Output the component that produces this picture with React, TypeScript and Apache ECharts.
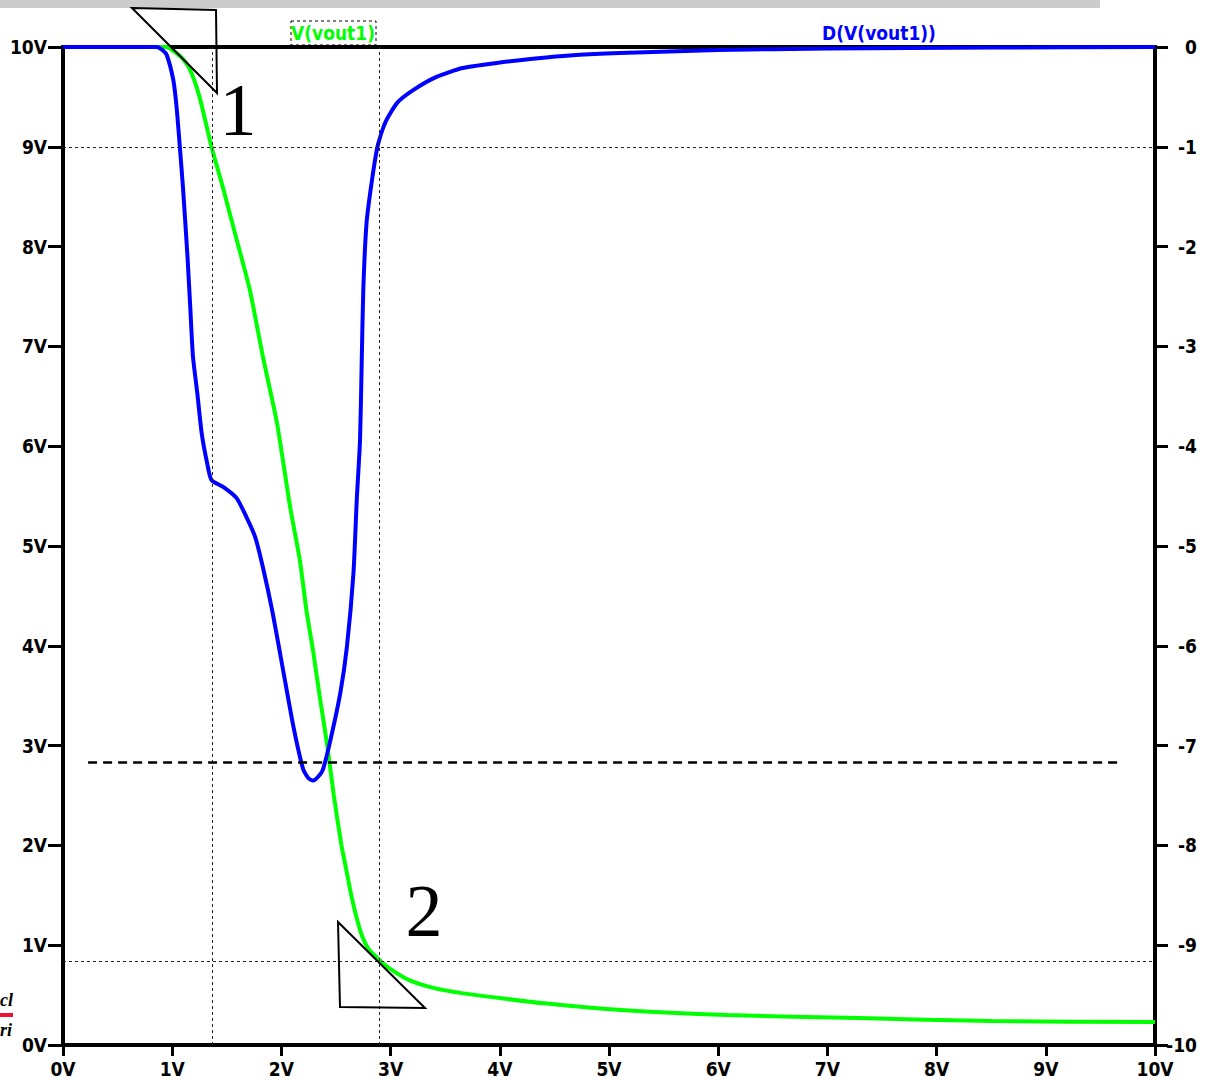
import React, { useEffect, useRef } from "react";
import * as echarts from "echarts";

const xTicks = [0, 1, 2, 3, 4, 5, 6, 7, 8, 9, 10];

// V(vout1) vs sweep voltage (left axis, V)
const vinGreen = [0, 0.5, 0.95, 1.0, 1.08, 1.16, 1.25, 1.36, 1.47, 1.59, 1.71, 1.83, 1.96, 2.08, 2.17, 2.23, 2.29, 2.35, 2.42, 2.48, 2.55, 2.59, 2.64, 2.69, 2.74, 2.8, 2.9, 3.0, 3.17, 3.4, 3.65, 4.0, 4.38, 5.11, 6.08, 7.29, 8.5, 10];
const voutGreen = [10, 10, 10, 9.97, 9.9, 9.78, 9.5, 9.0, 8.57, 8.07, 7.57, 6.9, 6.23, 5.39, 4.85, 4.35, 3.95, 3.5, 3.0, 2.5, 2.0, 1.78, 1.5, 1.27, 1.09, 0.96, 0.85, 0.76, 0.65, 0.57, 0.52, 0.47, 0.42, 0.35, 0.3, 0.27, 0.24, 0.23];

// D(V(vout1)) (right axis)
const vinBlue = [0, 0.5, 0.86, 0.91, 0.95, 1.01, 1.04, 1.07, 1.1, 1.14, 1.165, 1.19, 1.23, 1.27, 1.32, 1.36, 1.47, 1.59, 1.68, 1.76, 1.83, 1.92, 2.01, 2.11, 2.2, 2.25, 2.29, 2.33, 2.38, 2.45, 2.54, 2.6, 2.66, 2.69, 2.72, 2.735, 2.75, 2.78, 2.83, 2.88, 2.95, 3.06, 3.21, 3.42, 3.66, 3.97, 4.28, 4.7, 5.1, 6.0, 7.0, 8.5, 10];
const dBlue = [0, 0, 0, -0.03, -0.08, -0.33, -0.6, -1.0, -1.43, -2.1, -2.6, -3.1, -3.47, -3.87, -4.17, -4.34, -4.41, -4.52, -4.71, -4.91, -5.21, -5.67, -6.21, -6.81, -7.24, -7.33, -7.35, -7.32, -7.24, -6.94, -6.47, -6.01, -5.27, -4.54, -3.94, -3.18, -2.43, -1.76, -1.33, -1.0, -0.76, -0.56, -0.43, -0.3, -0.21, -0.16, -0.12, -0.08, -0.06, -0.03, -0.015, -0.005, 0];

// cursors and reference line
const cursorX = [1.374, 2.903];
const cursorY = [9.0, 0.845];
const refLineY = 2.83;
const refLineX = [0.23, 9.68];

const FONT = "'Liberation Sans Narrow', 'DejaVu Sans Condensed', 'Arial Narrow', sans-serif";
const SERIF = "'Liberation Serif', 'DejaVu Serif', serif";

export default function App() {
  const ref = useRef<HTMLDivElement>(null);
  useEffect(() => {
    if (!ref.current) return;
    const chart = echarts.init(ref.current, null, { renderer: "svg" });
    const axisLabelBase = { color: "#000", fontFamily: FONT, fontWeight: "bold" as const, fontSize: 19 };
    const cursorStyle = { color: "#222", width: 1, type: [3, 3] as any };
    chart.setOption({
      animation: false,
      backgroundColor: "#fff",
      grid: { left: 63, right: 56, top: 47, bottom: 35, show: true, borderColor: "#000", borderWidth: 4, backgroundColor: "transparent" },
      xAxis: {
        type: "value", min: xTicks[0], max: xTicks[xTicks.length - 1], interval: 1,
        axisLine: { show: true, lineStyle: { color: "#000", width: 4 } },
        axisTick: { show: true, inside: false, length: 11, lineStyle: { color: "#000", width: 3 } },
        axisLabel: { ...axisLabelBase, margin: 14, formatter: (v: number) => `${v}V` },
        splitLine: { show: false },
      },
      yAxis: [
        {
          type: "value", min: 0, max: 10, interval: 1, position: "left",
          axisLine: { show: true, lineStyle: { color: "#000", width: 4 } },
          axisTick: { show: true, inside: false, length: 15, lineStyle: { color: "#000", width: 3 } },
          axisLabel: { ...axisLabelBase, margin: 16, formatter: (v: number) => `${v}V` },
          splitLine: { show: false },
        },
        {
          type: "value", min: -10, max: 0, interval: 1, position: "right",
          axisLine: { show: true, lineStyle: { color: "#000", width: 4 } },
          axisTick: { show: true, inside: false, length: 13, lineStyle: { color: "#000", width: 3 } },
          axisLabel: { ...axisLabelBase, margin: 42, align: "right", formatter: (v: number) => `${v}` },
          splitLine: { show: false },
        },
      ],
      series: [
        {
          name: "V(vout1)", type: "line", yAxisIndex: 0, showSymbol: false, clip: false, smooth: 0.2,
          lineStyle: { color: "#00ff00", width: 4 },
          data: vinGreen.map((x, i) => [x, voutGreen[i]]),
          z: 3,
          markLine: {
            silent: true, symbol: "none", label: { show: false },
            lineStyle: cursorStyle,
            data: [
              ...cursorX.map((x) => ({ xAxis: x, lineStyle: cursorStyle })),
              ...cursorY.map((y) => ({ yAxis: y, lineStyle: cursorStyle })),
              [
                { coord: [refLineX[0], refLineY], lineStyle: { color: "#000", width: 2.5, type: [9, 6] } },
                { coord: [refLineX[1], refLineY] },
              ],
            ],
          },
        },
        {
          name: "D(V(vout1))", type: "line", yAxisIndex: 1, showSymbol: false, clip: false, smooth: 0.2,
          lineStyle: { color: "#0000ff", width: 4 },
          data: vinBlue.map((x, i) => [x, dBlue[i]]),
          z: 4,
        },
      ],
      graphic: [
        { type: "rect", shape: { x: 0, y: 0, width: 1100, height: 8 }, style: { fill: "#cccccc" }, z: 1 },
        { type: "rect", shape: { x: 291, y: 21, width: 85, height: 24 }, style: { fill: "none", stroke: "#000", lineWidth: 1, lineDash: [3, 3] }, z: 10 },
        { type: "text", x: 333, y: 33, style: { text: "V(vout1)", fill: "#00ff00", font: `bold 19px ${FONT}`, align: "center", verticalAlign: "middle" }, z: 10 },
        { type: "text", x: 879, y: 33, style: { text: "D(V(vout1))", fill: "#0000ff", font: `bold 19px ${FONT}`, align: "center", verticalAlign: "middle" }, z: 10 },
        { type: "polygon", shape: { points: [[132, 8], [216, 10], [217, 93]] }, style: { fill: "none", stroke: "#000", lineWidth: 2 }, z: 10 },
        { type: "polygon", shape: { points: [[338, 922], [340, 1007], [425, 1008]] }, style: { fill: "none", stroke: "#000", lineWidth: 2 }, z: 10 },
        { type: "text", x: 238, y: 147, style: { text: "1", fill: "#000", font: `74px ${SERIF}`, align: "center", verticalAlign: "bottom" }, z: 10 },
        { type: "text", x: 424, y: 948, style: { text: "2", fill: "#000", font: `74px ${SERIF}`, align: "center", verticalAlign: "bottom" }, z: 10 },
        { type: "text", x: 0, y: 1009, style: { text: "cl", fill: "#000", font: `italic bold 18px ${SERIF}`, align: "left", verticalAlign: "bottom" }, z: 10 },
        { type: "rect", shape: { x: 0, y: 1013, width: 13, height: 4 }, style: { fill: "#ee1133" }, z: 10 },
        { type: "text", x: 0, y: 1039, style: { text: "ri", fill: "#000", font: `italic bold 18px ${SERIF}`, align: "left", verticalAlign: "bottom" }, z: 10 },
      ],
    });
    return () => chart.dispose();
  }, []);
  return (
    <div
      ref={ref}
      style={{ position: "fixed", left: 0, top: 0, width: 1211, height: 1080, background: "#fff" }}
    />
  );
}
